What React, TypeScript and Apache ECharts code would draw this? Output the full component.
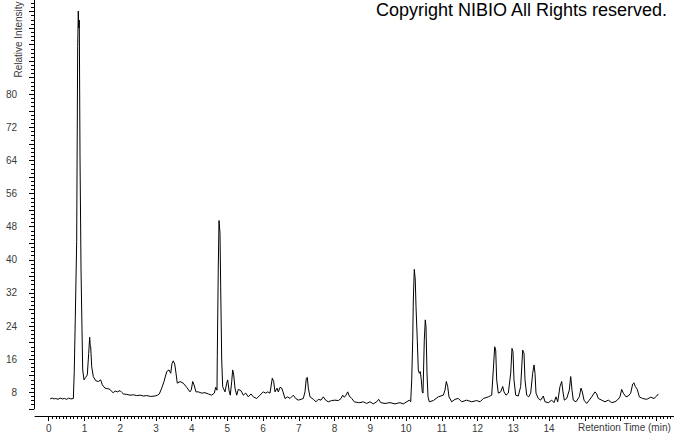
import React, { useEffect, useRef } from "react";
import * as echarts from "echarts";

// Retention time (min) / relative intensity pairs
const traceA: [number, number][] = [
  [0.04, 6.4], [0.1, 6.6], [0.15, 6.4], [0.2, 6.5], [0.26, 6.3], [0.32, 6.6], [0.38, 6.4], [0.44, 6.5],
  [0.5, 6.3], [0.56, 6.6], [0.62, 6.4], [0.69, 6.5], [0.705, 6.6], [0.715, 13.0], [0.744, 25.9],
  [0.783, 44.4], [0.811, 91.5], [0.828, 100.1], [0.842, 96.0], [0.856, 97.9], [0.876, 64.9], [0.904, 38.0],
  [0.932, 23.0], [0.951, 13.4], [0.988, 11.0], [1.035, 11.6], [1.08, 12.2], [1.119, 17.4], [1.147, 21.3],
  [1.16, 19.5], [1.175, 19.0], [1.203, 14.2], [1.248, 11.8], [1.315, 10.8], [1.388, 10.6], [1.455, 11.0],
  [1.5, 9.8], [1.575, 9.0], [1.64, 8.9], [1.715, 8.7], [1.76, 8.2], [1.808, 7.9], [1.86, 8.3], [1.919, 8.1],
  [1.995, 8.4], [2.04, 8.0], [2.087, 7.6], [2.18, 7.5], [2.275, 7.3], [2.37, 7.4], [2.462, 7.2], [2.56, 7.3],
  [2.65, 7.1], [2.742, 7.2], [2.85, 7.0], [2.974, 7.1], [3.04, 7.3], [3.095, 7.6], [3.162, 9.0], [3.226, 10.6],
  [3.302, 13.0], [3.366, 13.4], [3.414, 12.6], [3.45, 15.0], [3.486, 15.6], [3.526, 14.8], [3.562, 12.6],
  [3.598, 10.2], [3.673, 10.6], [3.765, 10.2], [3.86, 9.2], [3.952, 8.1], [3.99, 8.6], [4.029, 10.6],
  [4.066, 9.8], [4.121, 8.1],
];

const traceB: [number, number][] = [
  [4.186, 8.1], [4.281, 7.8], [4.373, 7.9], [4.466, 7.6], [4.561, 7.3], [4.633, 7.8], [4.673, 9.2], [4.709, 8.5],
  [4.717, 16.6], [4.745, 38.3], [4.765, 49.5], [4.793, 46.4], [4.812, 33.5], [4.841, 15.8], [4.868, 9.4],
  [4.885, 9.0], [4.933, 8.1], [4.98, 10.2], [5.008, 11.0], [5.045, 8.5], [5.081, 7.3], [5.12, 10.6],
  [5.148, 13.4], [5.176, 12.2], [5.213, 9.0], [5.26, 7.3], [5.305, 8.7], [5.38, 8.4], [5.445, 7.3], [5.512, 7.8],
  [5.585, 6.9], [5.66, 7.6], [5.725, 6.9], [5.82, 6.5], [5.912, 7.3], [6.004, 8.1], [6.072, 7.8], [6.128, 8.1],
  [6.192, 7.8], [6.256, 11.4], [6.295, 10.6], [6.332, 8.1], [6.388, 9.0], [6.424, 8.1], [6.472, 9.2],
  [6.519, 9.0], [6.556, 8.1], [6.612, 6.5], [6.687, 6.9], [6.752, 6.5], [6.844, 7.3], [6.911, 6.5],
  [6.984, 6.1], [7.059, 6.3], [7.124, 6.5], [7.171, 8.1], [7.208, 11.4], [7.236, 11.6], [7.264, 9.0],
  [7.311, 6.9], [7.404, 6.3], [7.479, 5.7], [7.543, 6.3], [7.619, 6.1], [7.683, 6.9], [7.75, 6.1],
  [7.823, 5.7], [7.918, 6.0], [8.011, 6.1], [8.103, 6.0], [8.179, 6.5], [8.226, 7.3], [8.271, 6.8],
  [8.318, 7.3], [8.366, 8.1], [8.411, 7.1], [8.478, 6.5], [8.551, 5.7], [8.663, 5.5],
];

const traceC: [number, number][] = [
  [8.71, 5.5], [8.802, 5.7], [8.898, 5.3], [8.99, 5.7], [9.082, 5.2], [9.177, 5.7], [9.233, 6.3], [9.289, 5.5],
  [9.41, 5.3], [9.55, 5.5], [9.69, 5.2], [9.829, 5.5], [9.922, 5.2], [10.017, 5.7], [10.09, 6.1], [10.129, 5.7],
  [10.157, 11.0], [10.185, 20.6], [10.202, 30.3], [10.229, 37.7], [10.257, 35.1], [10.277, 28.7],
  [10.313, 20.6], [10.341, 13.4], [10.369, 12.6], [10.397, 13.0], [10.425, 11.0], [10.453, 8.1],
  [10.473, 7.8], [10.509, 20.6], [10.537, 25.5], [10.557, 23.8], [10.585, 12.6], [10.613, 6.9],
  [10.649, 5.7], [10.761, 6.0], [10.901, 6.9], [11.041, 7.3], [11.088, 8.5], [11.125, 10.6], [11.164, 9.4],
  [11.2, 6.9], [11.276, 5.7], [11.368, 6.3], [11.461, 6.5], [11.556, 5.7], [11.695, 6.1], [11.835, 5.7],
  [11.975, 6.0], [12.068, 5.7], [12.16, 6.5], [12.3, 6.9], [12.395, 7.3], [12.44, 13.4], [12.479, 19.0],
  [12.507, 18.2], [12.535, 11.0], [12.58, 7.8], [12.647, 8.1], [12.703, 9.4], [12.739, 8.1], [12.795, 7.3],
  [12.86, 7.8], [12.927, 12.6], [12.963, 18.6], [12.991, 17.8], [13.019, 11.0], [13.067, 7.3], [13.139, 7.1],
  [13.206, 9.4], [13.262, 18.2], [13.299, 17.4], [13.327, 11.0], [13.374, 7.3], [13.43, 6.9], [13.486, 7.8],
  [13.542, 12.6], [13.579, 14.6], [13.607, 12.6], [13.635, 7.8], [13.699, 6.5], [13.766, 6.1], [13.839, 7.1],
  [13.887, 5.7], [13.979, 5.5], [14.074, 6.1], [14.138, 5.5], [14.194, 6.9], [14.242, 5.7], [14.306, 9.4],
  [14.354, 10.6], [14.39, 8.1], [14.426, 6.1], [14.494, 6.5], [14.566, 8.5], [14.606, 11.8], [14.642, 8.5],
  [14.678, 6.1], [14.754, 5.7], [14.846, 6.9], [14.894, 9.0], [14.93, 8.1], [14.978, 6.1], [15.053, 5.3],
  [15.126, 6.1], [15.193, 6.9], [15.285, 8.1], [15.333, 7.6], [15.378, 6.5], [15.473, 6.1], [15.565, 5.7],
  [15.657, 6.1], [15.753, 5.5], [15.845, 5.7], [15.909, 6.1], [15.985, 6.9], [16.032, 8.7], [16.077, 7.8],
  [16.153, 6.9], [16.217, 7.1], [16.284, 7.8], [16.34, 10.0], [16.376, 10.3], [16.413, 9.4], [16.469, 8.7],
  [16.525, 6.9], [16.62, 6.5], [16.732, 6.3], [16.844, 6.8], [16.936, 6.5], [17.012, 7.1], [17.056, 7.6],
];

const yLabelValues = [8, 16, 24, 32, 40, 48, 56, 64, 72, 80];
const xLabelValues = [0, 1, 2, 3, 4, 5, 6, 7, 8, 9, 10, 11, 12, 13, 14];

const titleText = "Copyright NIBIO All Rights reserved.";
const xName = "Retention Time (min)";
const yName = "Relative Intensity";

// layout constants (pixels)
const W = 674;
const H = 434;
const X0 = 48.7; // pixel of t = 0
const PXMIN = 35.74; // pixels per minute
const Y0 = 425.4; // pixel of intensity 0
const PXU = 4.139; // pixels per intensity unit
const AXIS_Y = 416;
const AXIS_X_LEFT = 35;
const YAXIS_X = 34;

const FONT = "Liberation Sans, Arial, sans-serif";
const LABEL_COLOR = "#3a3a3a";

export default function App() {
  const ref = useRef<HTMLDivElement>(null);
  useEffect(() => {
    if (!ref.current) return;
    const chart = echarts.init(ref.current, undefined, { renderer: "svg" });
    const yMaxTick = 104;
    const yMinTick = 4;
    const gridYTop = Y0 - yMaxTick * PXU;
    const gridYHeight = (yMaxTick - yMinTick) * PXU;
    const xMaxTick = 18;
    const option: any = {
      animation: false,
      backgroundColor: "#ffffff",
      grid: [
        { left: AXIS_X_LEFT, top: 0, width: W - AXIS_X_LEFT, height: AXIS_Y, containLabel: false, outerBoundsMode: "none" },
        { left: X0, top: 0, width: xMaxTick * PXMIN, height: AXIS_Y, containLabel: false, outerBoundsMode: "none" },
        { left: YAXIS_X, top: gridYTop, width: 20, height: gridYHeight, containLabel: false, outerBoundsMode: "none" },
      ],
      xAxis: [
        {
          type: "value",
          gridIndex: 0,
          min: (AXIS_X_LEFT - X0) / PXMIN,
          max: (W - X0) / PXMIN,
          axisLine: { show: true, onZero: false, lineStyle: { color: "#000", width: 1 } },
          axisTick: { show: false },
          axisLabel: { show: false },
          splitLine: { show: false },
        },
        {
          type: "value",
          gridIndex: 1,
          min: 0,
          max: xMaxTick,
          interval: 1,
          axisLine: { show: false, onZero: false },
          axisTick: { show: true, length: 5, lineStyle: { color: "#000", width: 1 } },
          minorTick: { show: true, splitNumber: 10, length: 3, lineStyle: { color: "#000", width: 1 } },
          axisLabel: {
            show: true,
            margin: 7,
            color: LABEL_COLOR,
            fontSize: 10,
            fontFamily: FONT,
            hideOverlap: false,
            formatter: (v: number) => (xLabelValues.indexOf(Math.round(v)) >= 0 && Math.abs(v - Math.round(v)) < 1e-6 ? String(Math.round(v)) : ""),
          },
          splitLine: { show: false },
        },
        { type: "value", gridIndex: 2, show: false, min: 0, max: 1, splitLine: { show: false } },
      ],
      yAxis: [
        {
          type: "value",
          gridIndex: 0,
          show: false,
          min: (Y0 - AXIS_Y) / PXU,
          max: Y0 / PXU,
          splitLine: { show: false },
        },
        { type: "value", gridIndex: 1, show: false, min: 0, max: 1, splitLine: { show: false } },
        {
          type: "value",
          gridIndex: 2,
          min: yMinTick,
          max: yMaxTick,
          interval: 4,
          axisLine: { show: true, onZero: false, lineStyle: { color: "#000", width: 1 } },
          axisTick: { show: true, length: 5, lineStyle: { color: "#000", width: 1 } },
          minorTick: { show: true, splitNumber: 4, length: 3, lineStyle: { color: "#000", width: 1 } },
          axisLabel: {
            show: true,
            margin: 17,
            color: LABEL_COLOR,
            fontSize: 10,
            fontFamily: FONT,
            formatter: (v: number) => (yLabelValues.indexOf(Math.round(v)) >= 0 ? String(Math.round(v)) : ""),
          },
          splitLine: { show: false },
        },
      ],
      series: [
        {
          type: "line",
          xAxisIndex: 0,
          yAxisIndex: 0,
          data: [...traceA, ...traceB, ...traceC],
          showSymbol: false,
          symbol: "none",
          lineStyle: { color: "#000", width: 1 },
          silent: true,
        },
      ],
      graphic: [
        {
          type: "text",
          right: W - 668,
          top: 1,
          style: { text: titleText, fill: "#000", font: `18px ${FONT}` },
        },
        {
          type: "text",
          left: 578,
          top: 422,
          style: { text: xName, fill: LABEL_COLOR, font: `10px ${FONT}` },
        },
        {
          type: "text",
          x: 18.3,
          y: 39.5,
          rotation: Math.PI / 2,
          style: {
            text: yName,
            fill: LABEL_COLOR,
            font: `10px ${FONT}`,
            textAlign: "center",
            textVerticalAlign: "middle",
          },
        },
      ],
    };
    chart.setOption(option);
    return () => chart.dispose();
  }, []);
  return (
    <div
      ref={ref}
      style={{ position: "absolute", left: 0, top: 0, width: W, height: H, background: "#fff" }}
    />
  );
}
